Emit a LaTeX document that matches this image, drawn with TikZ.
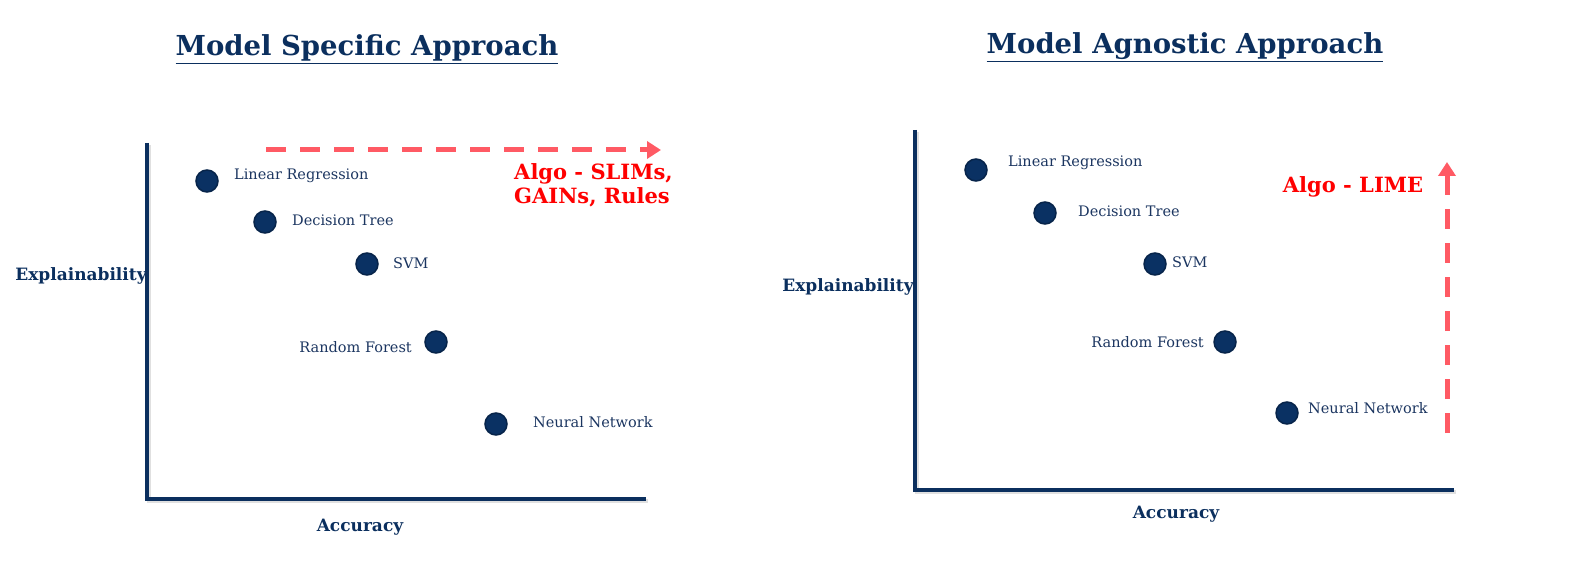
\documentclass[tikz,border=0pt]{standalone}
\usepackage{fontspec}
\setmainfont{DejaVu Serif}
\usetikzlibrary{arrows.meta}
\definecolor{navy}{HTML}{0B2F5E}
\definecolor{dotfill}{HTML}{0A3163}
\definecolor{dotline}{HTML}{07244A}
\definecolor{arrowred}{HTML}{FF5A64}
\definecolor{textred}{HTML}{FF0000}
\definecolor{txt}{HTML}{1B3560}
\tikzset{
  axis/.style={line width=4.5pt, draw=navy, line cap=butt, line join=miter},
  axshadow/.style={line width=4.5pt, draw=black, opacity=0.12, line cap=butt, line join=miter},
  dot/.style={circle, fill=dotfill, draw=dotline, line width=1.5pt, minimum size=22pt, inner sep=0pt},
  lbl/.style={font=\fontsize{14.5}{16}\selectfont, text=txt, inner sep=0pt},
  axlbl/.style={font=\fontsize{17}{20}\selectfont\bfseries, text=navy, inner sep=0pt},
  ttl/.style={font=\fontsize{27.5}{30}\selectfont\bfseries, text=navy, inner sep=0pt},
  redlbl/.style={font=\fontsize{21}{24}\selectfont\bfseries, text=textred, inner sep=0pt, align=left},
  dasharrow/.style={draw=arrowred, line width=5pt, dash pattern=on 20pt off 14pt, -{Triangle[length=14pt,width=17pt]}},
}
\begin{document}
\begin{tikzpicture}[x=1pt,y=-1pt]
\useasboundingbox (0,0) rectangle (1571,569);
% ---------------- left panel ----------------
\node[ttl] (t1) at (367,49) {\underline{Model Specific Approach}};
\coordinate (ya1) at (147,143);
\coordinate (o1) at (147,499);
\coordinate (xa1) at (646,499);
\draw[axshadow, transform canvas={xshift=2pt,yshift=-2pt}] (ya1) -- (o1) -- (xa1);
\draw[axis] (ya1) -- (o1) -- (xa1);
\node[axlbl] (ex1) at (81,276) {Explainability};
\node[axlbl] (ac1) at (360,527) {Accuracy};
\node[dot] (d11) at (207,181) {};
\node[dot] (d12) at (265,222) {};
\node[dot] (d13) at (367,264) {};
\node[dot] (d14) at (436,342) {};
\node[dot] (d15) at (496,424) {};
\node[lbl, anchor=base west] (l11) at (234,180) {Linear Regression};
\node[lbl, anchor=base west] (l12) at (292,226) {Decision Tree};
\node[lbl, anchor=base west] (l13) at (393,269) {SVM};
\node[lbl, anchor=base east] (l14) at (412,352) {Random Forest};
\node[lbl, anchor=base west] (l15) at (533,427) {Neural Network};
\coordinate (a1s) at (266,150);
\coordinate (a1e) at (661,150);
\draw[dasharrow] (a1s) -- (a1e);
\node[redlbl, anchor=north west] (r1) at (514,163) {Algo - SLIMs,\\GAINs, Rules};
% ---------------- right panel ----------------
\node[ttl] (t2) at (1185,47) {\underline{Model Agnostic Approach}};
\coordinate (ya2) at (915,130);
\coordinate (o2) at (915,490);
\coordinate (xa2) at (1454,490);
\draw[axshadow, transform canvas={xshift=2pt,yshift=-2pt}] (ya2) -- (o2) -- (xa2);
\draw[axis] (ya2) -- (o2) -- (xa2);
\node[axlbl] (ex2) at (848,287) {Explainability};
\node[axlbl] (ac2) at (1176,514) {Accuracy};
\node[dot] (d21) at (976,170) {};
\node[dot] (d22) at (1045,213) {};
\node[dot] (d23) at (1155,264) {};
\node[dot] (d24) at (1225,342) {};
\node[dot] (d25) at (1287,413) {};
\node[lbl, anchor=base west] (l21) at (1008,167) {Linear Regression};
\node[lbl, anchor=base west] (l22) at (1078,217) {Decision Tree};
\node[lbl, anchor=base west] (l23) at (1172,268) {SVM};
\node[lbl, anchor=base east] (l24) at (1204,347) {Random Forest};
\node[lbl, anchor=base west] (l25) at (1308,413) {Neural Network};
\coordinate (a2s) at (1447,433);
\coordinate (a2e) at (1447,162);
\draw[dasharrow] (a2s) -- (a2e);
\node[redlbl] (r2) at (1353,187) {Algo - LIME};
\end{tikzpicture}
\end{document}
